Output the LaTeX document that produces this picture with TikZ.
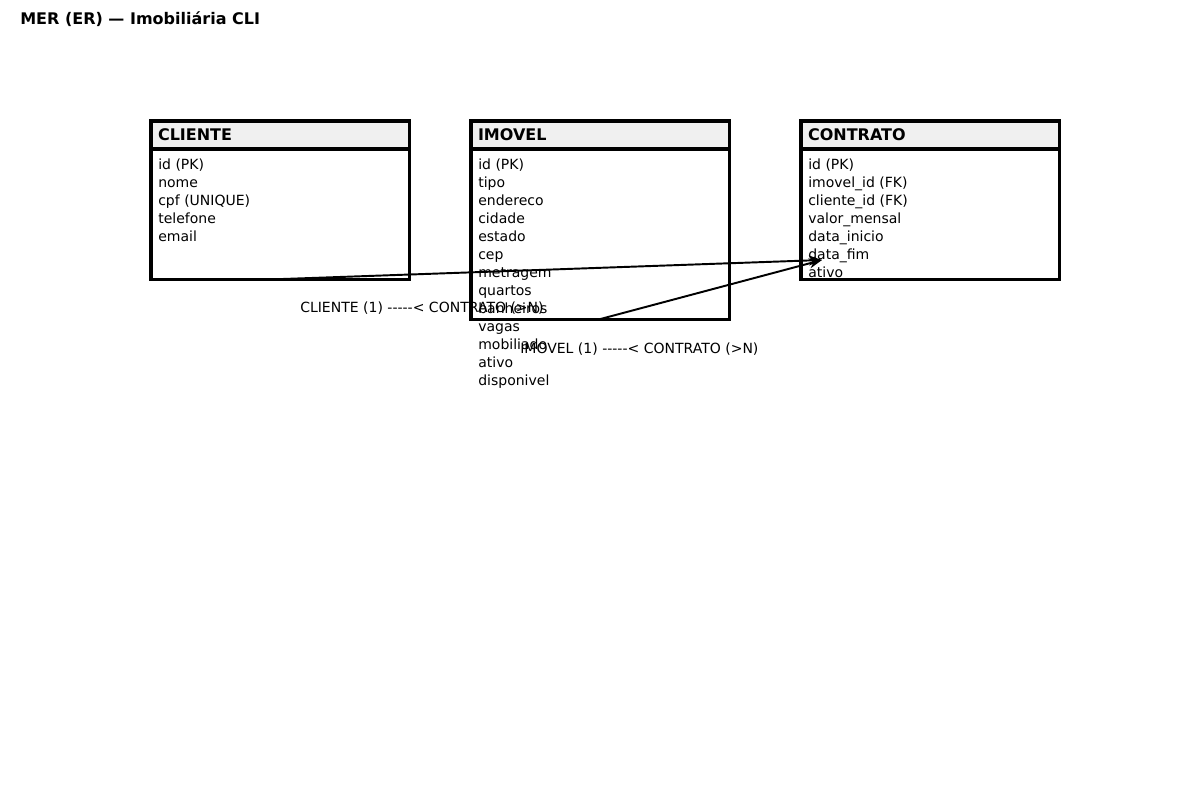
\documentclass[tikz,border=0pt]{standalone}
\usepackage{fontspec}
\setmainfont{DejaVu Sans}
\usepackage{tikz}
\usetikzlibrary{positioning}
\usetikzlibrary{arrows.meta}
\definecolor{headgray}{HTML}{F0F0F0}

\begin{document}
\begin{tikzpicture}[x=0.01in, y=-0.01in,
		tabela/.style={draw, line width=2.2pt, minimum width=2.58in, inner sep=0pt, outer sep=0pt, anchor=north west},
		cabeca/.style={draw, fill=headgray, line width=2.2pt, minimum width=2.58in, minimum height=0.28in, text width=2.44in, inner xsep=0.07in, inner ysep=0pt, outer sep=0pt, align=left, anchor=north west, font=\fontsize{11.56}{14}\selectfont\bfseries},
		campos/.style={anchor=north west, align=left, inner sep=0pt, font=\fontsize{10.12}{13.01}\selectfont},
		rotulo/.style={anchor=base west, inner sep=0pt, font=\fontsize{10.12}{13.01}\selectfont},
		relacao/.style={line width=1.4pt, -{Stealth[length=0.13in, width=0.1in]}}]
	\useasboundingbox[fill=white] (0,0) rectangle (1200,800);
	
	\node[anchor=base west, inner sep=0pt, font=\fontsize{11.56}{14}\selectfont\bfseries] (titulo) at (20,25) {MER (ER) — Imobiliária CLI};
	
	\node[tabela, minimum height=1.58in] (cliente) at (151,121) {};
	\node[tabela, minimum height=1.98in] (imovel) at (471,121) {};
	\node[tabela, minimum height=1.58in] (contrato) at (801,121) {};
	
	\node[cabeca] (cliente-h) at (cliente.north west) {CLIENTE};
	\node[cabeca] (imovel-h) at (imovel.north west) {IMOVEL};
	\node[cabeca] (contrato-h) at (contrato.north west) {CONTRATO};
	
	\node[campos] (cliente-c) at (158,158.5) {id (PK)\\nome\\cpf (UNIQUE)\\telefone\\email};
	\node[campos] (imovel-c) at (478,158.5) {id (PK)\\tipo\\endereco\\cidade\\estado\\cep\\metragem\\quartos\\banheiros\\vagas\\mobiliado\\ativo\\disponivel};
	\node[campos] (contrato-c) at (808,158.5) {id (PK)\\imovel\_id (FK)\\cliente\_id (FK)\\valor\_mensal\\data\_inicio\\data\_fim\\ativo};
	
	\coordinate (fk) at (822,260);
	
	\draw[relacao] (cliente.south) -- (fk);
	\draw[relacao] (imovel.south) -- (fk);
	
	\node[rotulo] (rel1) at (300,313) {CLIENTE (1) -{}-{}-{}-{}-< CONTRATO (>N)};
	\node[rotulo] (rel2) at (520,353) {IMOVEL (1) -{}-{}-{}-{}-< CONTRATO (>N)};
\end{tikzpicture}
\end{document}
